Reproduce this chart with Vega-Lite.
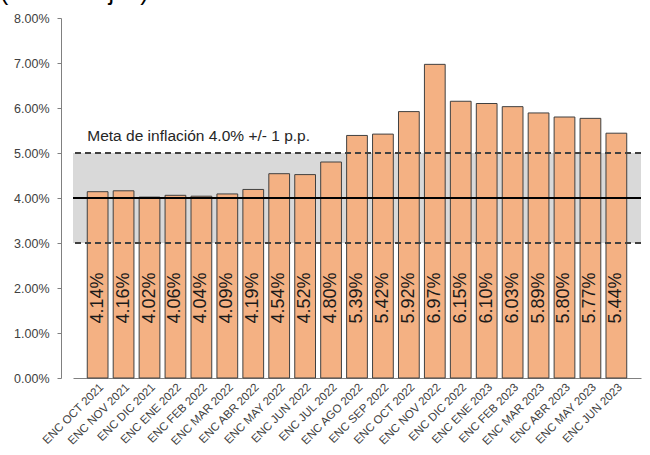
{
  "$schema": "https://vega.github.io/schema/vega-lite/v6.json",
  "autosize": "none",
  "width": 568,
  "height": 360,
  "padding": {"left": 73, "top": 18, "right": 9, "bottom": 77},
  "background": "white",
  "title": {"text": "(Porcentajes)", "anchor": "start", "frame": "group", "dx": -73, "dy": -3, "fontSize": 25, "font": "Liberation Sans", "fontWeight": "normal", "color": "#000000"},
  "config": {"view": {"stroke": null}, "font": "Liberation Sans"},
  "data": {"values": [
    {"encuesta": "ENC OCT 2021", "valor": 0.0414},
    {"encuesta": "ENC NOV 2021", "valor": 0.0416},
    {"encuesta": "ENC DIC 2021", "valor": 0.0402},
    {"encuesta": "ENC ENE 2022", "valor": 0.0406},
    {"encuesta": "ENC FEB 2022", "valor": 0.0404},
    {"encuesta": "ENC MAR 2022", "valor": 0.0409},
    {"encuesta": "ENC ABR 2022", "valor": 0.0419},
    {"encuesta": "ENC MAY 2022", "valor": 0.0454},
    {"encuesta": "ENC JUN 2022", "valor": 0.0452},
    {"encuesta": "ENC JUL 2022", "valor": 0.0480},
    {"encuesta": "ENC AGO 2022", "valor": 0.0539},
    {"encuesta": "ENC SEP 2022", "valor": 0.0542},
    {"encuesta": "ENC OCT 2022", "valor": 0.0592},
    {"encuesta": "ENC NOV 2022", "valor": 0.0697},
    {"encuesta": "ENC DIC 2022", "valor": 0.0615},
    {"encuesta": "ENC ENE 2023", "valor": 0.0610},
    {"encuesta": "ENC FEB 2023", "valor": 0.0603},
    {"encuesta": "ENC MAR 2023", "valor": 0.0589},
    {"encuesta": "ENC ABR 2023", "valor": 0.0580},
    {"encuesta": "ENC MAY 2023", "valor": 0.0577},
    {"encuesta": "ENC JUN 2023", "valor": 0.0544}
  ]},
  "encoding": {
    "x": {"field": "encuesta", "type": "nominal", "sort": null,
      "scale": {"paddingInner": 0.2, "paddingOuter": 0.55},
      "axis": {"title": null, "labelAngle": -45, "labelFontSize": 11.5, "labelColor": "#404040", "ticks": false, "domainColor": "#808080", "labelPadding": 3}}
  },
  "layer": [
    {"mark": {"type": "rect", "color": "#D9D9D9"},
      "encoding": {"x": null, "y": {"datum": 0.03, "type": "quantitative", "scale": {"domain": [0, 0.08]},
        "axis": {"title": null, "format": ".2%", "values": [0, 0.01, 0.02, 0.03, 0.04, 0.05, 0.06, 0.07, 0.08], "labelOverlap": false, "grid": false, "offset": 12, "labelFontSize": 12.5, "labelColor": "#404040", "domainColor": "#808080", "tickColor": "#808080", "tickSize": 4, "labelPadding": 8}}, "y2": {"datum": 0.05}}},
    {"mark": {"type": "bar", "color": "#F4B183", "stroke": "#404040", "strokeWidth": 1},
      "encoding": {"y": {"field": "valor", "type": "quantitative", "scale": {"domain": [0, 0.08]},
        "axis": {"title": null, "format": ".2%", "values": [0, 0.01, 0.02, 0.03, 0.04, 0.05, 0.06, 0.07, 0.08], "labelOverlap": false, "grid": false, "offset": 12, "labelFontSize": 12.5, "labelColor": "#404040", "domainColor": "#808080", "tickColor": "#808080", "tickSize": 4, "labelPadding": 8}}}},
    {"mark": {"type": "rule", "color": "#404040", "strokeWidth": 1.5, "strokeDash": [6, 4]},
      "encoding": {"x": null, "y": {"datum": 0.05, "type": "quantitative", "scale": {"domain": [0, 0.08]},
        "axis": {"title": null, "format": ".2%", "values": [0, 0.01, 0.02, 0.03, 0.04, 0.05, 0.06, 0.07, 0.08], "labelOverlap": false, "grid": false, "offset": 12, "labelFontSize": 12.5, "labelColor": "#404040", "domainColor": "#808080", "tickColor": "#808080", "tickSize": 4, "labelPadding": 8}}}},
    {"mark": {"type": "rule", "color": "#404040", "strokeWidth": 1.5, "strokeDash": [6, 4]},
      "encoding": {"x": null, "y": {"datum": 0.03, "type": "quantitative", "scale": {"domain": [0, 0.08]},
        "axis": {"title": null, "format": ".2%", "values": [0, 0.01, 0.02, 0.03, 0.04, 0.05, 0.06, 0.07, 0.08], "labelOverlap": false, "grid": false, "offset": 12, "labelFontSize": 12.5, "labelColor": "#404040", "domainColor": "#808080", "tickColor": "#808080", "tickSize": 4, "labelPadding": 8}}}},
    {"mark": {"type": "rule", "color": "#000000", "strokeWidth": 1.5},
      "encoding": {"x": null, "y": {"datum": 0.04, "type": "quantitative", "scale": {"domain": [0, 0.08]},
        "axis": {"title": null, "format": ".2%", "values": [0, 0.01, 0.02, 0.03, 0.04, 0.05, 0.06, 0.07, 0.08], "labelOverlap": false, "grid": false, "offset": 12, "labelFontSize": 12.5, "labelColor": "#404040", "domainColor": "#808080", "tickColor": "#808080", "tickSize": 4, "labelPadding": 8}}}},
    {"mark": {"type": "text", "angle": 270, "fontSize": 18, "align": "center", "baseline": "middle", "color": "#1a1a1a"},
      "encoding": {"y": {"datum": 0.0178, "type": "quantitative", "scale": {"domain": [0, 0.08]},
        "axis": {"title": null, "format": ".2%", "values": [0, 0.01, 0.02, 0.03, 0.04, 0.05, 0.06, 0.07, 0.08], "labelOverlap": false, "grid": false, "offset": 12, "labelFontSize": 12.5, "labelColor": "#404040", "domainColor": "#808080", "tickColor": "#808080", "tickSize": 4, "labelPadding": 8}}, "text": {"field": "valor", "type": "quantitative", "format": ".2%"}}},
    {"data": {"values": [{"t": "Meta de inflación 4.0% +/- 1 p.p."}]},
      "mark": {"type": "text", "align": "left", "baseline": "alphabetic", "fontSize": 15.5, "color": "#262626"},
      "encoding": {"x": {"datum": "ENC OCT 2021", "bandPosition": 0}, "y": {"datum": 0.0527, "type": "quantitative", "scale": {"domain": [0, 0.08]},
        "axis": {"title": null, "format": ".2%", "values": [0, 0.01, 0.02, 0.03, 0.04, 0.05, 0.06, 0.07, 0.08], "labelOverlap": false, "grid": false, "offset": 12, "labelFontSize": 12.5, "labelColor": "#404040", "domainColor": "#808080", "tickColor": "#808080", "tickSize": 4, "labelPadding": 8}}, "text": {"field": "t"}}}
  ]
}
